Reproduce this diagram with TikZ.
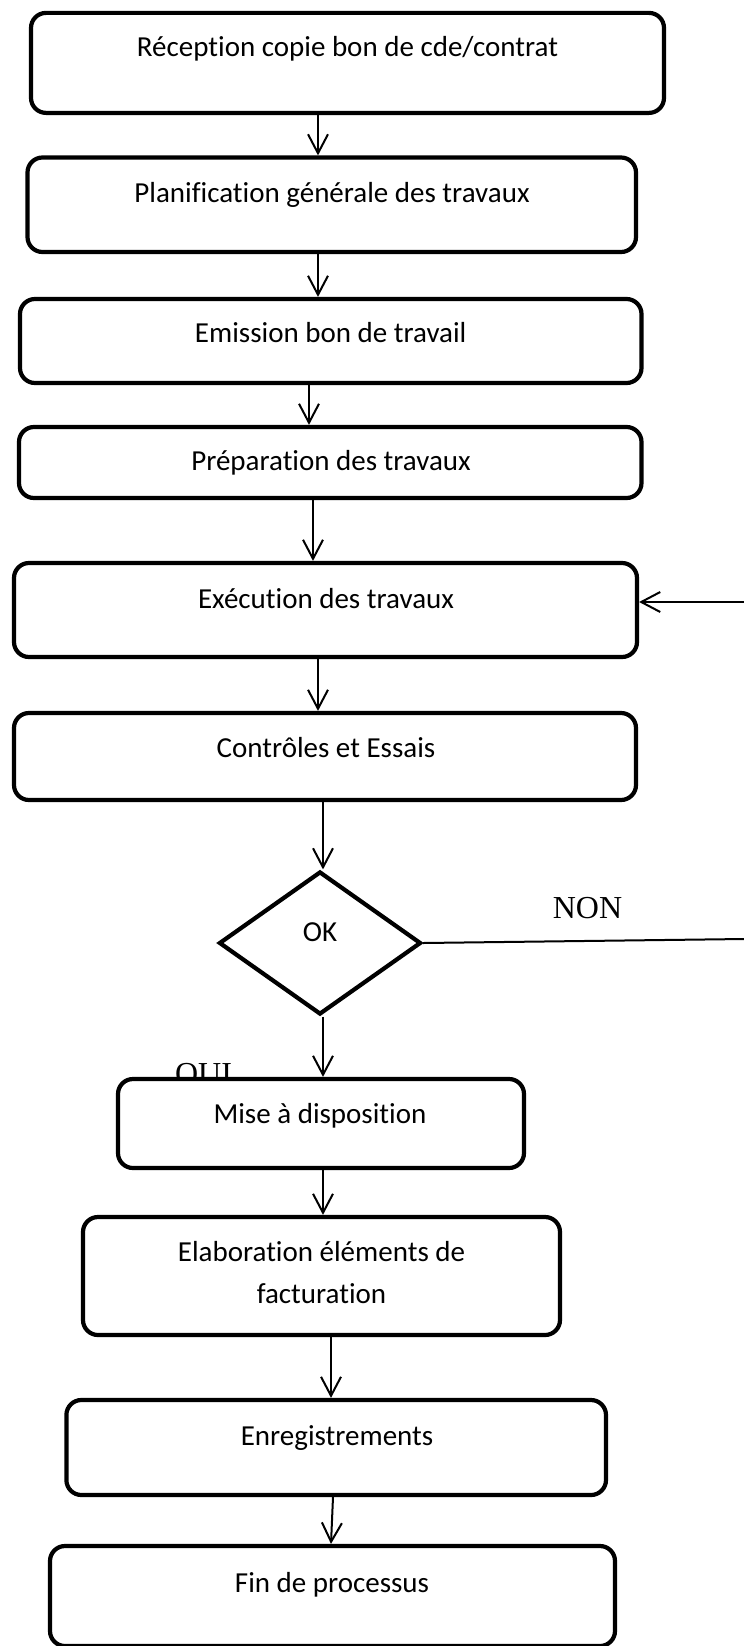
\documentclass[tikz,border=0pt]{standalone}
\usepackage{fontspec}
\setmainfont{Carlito}[Ligatures={NoCommon}]
\newfontfamily\labelserif{Liberation Serif}
\usetikzlibrary{arrows.meta,shapes.geometric}
\begin{document}
\begin{tikzpicture}[x=1pt,y=-1pt,
  procbox/.style 2 args={draw=black, line width=4.2pt, rounded corners=15pt, fill=white,
    inner sep=0pt, minimum width=#1, minimum height=#2},
  decbox/.style={draw=black, line width=4.2pt, diamond, fill=white, inner sep=0pt,
    minimum width=202pt, minimum height=143pt},
  txt/.style={font=\fontsize{29}{35}\selectfont, anchor=base, inner sep=0pt},
  lbl/.style={font=\labelserif\fontsize{32}{38}\selectfont, anchor=base, inner sep=0pt},
  arr/.style={line width=2pt, -{Straight Barb[length=19pt,width=20pt]}},
  con/.style={line width=2pt}]
\useasboundingbox (0,0) rectangle (744,1646);

% label partly hidden behind the box below it
\node[lbl] (toui) at (203.5,1084) {OUI};

% boxes
\node[procbox={633pt}{100pt}]   (b1)  at (347.5,62.9) {};
\node[procbox={608.5pt}{94.5pt}] (b2) at (331.75,204.75) {};
\node[procbox={621.5pt}{84pt}]  (b3)  at (330.75,341) {};
\node[procbox={622.5pt}{71pt}]  (b4)  at (330.25,462.5) {};
\node[procbox={623pt}{94pt}]    (b5)  at (325.5,610) {};
\node[procbox={622pt}{87pt}]    (b6)  at (325,756.5) {};
\node[decbox]                   (dia) at (320,943) {};
\node[procbox={406pt}{89pt}]    (b7)  at (321,1123.5) {};
\node[procbox={477pt}{118pt}]   (b8)  at (321.5,1276) {};
\node[procbox={539.6pt}{95pt}]  (b9)  at (336.2,1447.5) {};
\node[procbox={565pt}{100pt}]   (b10) at (332.5,1596) {};

% texts
\node[txt] (t1)  at (347.5,57)  {Réception copie bon de cde/contrat};
\node[txt] (t2)  at (332,202)   {Planification générale des travaux};
\node[txt] (t3)  at (330.7,342) {Emission bon de travail};
\node[txt] (t4)  at (331,470)   {Préparation des travaux};
\node[txt] (t5)  at (326,608)   {Exécution des travaux};
\node[txt] (t6)  at (326,757)   {Contrôles et Essais};
\node[txt] (tok) at (320,941)   {OK};
\node[lbl] (tnon) at (587.5,918) {NON};
\node[txt] (t7)  at (320,1123)  {Mise à disposition};
\node[txt] (t8a) at (321.5,1261) {Elaboration éléments de};
\node[txt] (t8b) at (321.5,1303) {facturation};
\node[txt] (t9)  at (337,1445)  {Enregistrements};
\node[txt] (t10) at (332,1592)  {Fin de processus};

% connectors
\draw[arr] (318,0 |- b1.south) -- (318,0 |- b2.north);
\draw[arr] (318,0 |- b2.south) -- (318,0 |- b3.north);
\draw[arr] (309,0 |- b3.south) -- (309,0 |- b4.north);
\draw[arr] (313,0 |- b4.south) -- (313,0 |- b5.north);
\draw[arr] (318,0 |- b5.south) -- (318,0 |- b6.north);
\draw[arr] (323,0 |- b6.south) -- (323,0 |- dia.north);
\draw[arr] (323,0 |- dia.south) -- (323,0 |- b7.north);
\draw[arr] (323,0 |- b7.south) -- (323,0 |- b8.north);
\draw[arr] (331,0 |- b8.south) -- (331,0 |- b9.north);
\draw[arr] (333,0 |- b9.south) -- (331,0 |- b10.north);

\coordinate (fb) at (744,602);
\draw[arr] (fb) -- (fb -| b5.east);
\coordinate (ne) at (744,939);
\draw[con] (dia.east) -- (ne);
\end{tikzpicture}
\end{document}
